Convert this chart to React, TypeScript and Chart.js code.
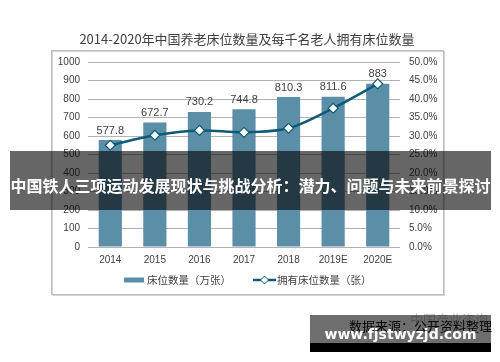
import React, { useEffect, useRef } from "react";
import { Chart, registerables } from "chart.js";

Chart.register(...registerables);

const categories = ["2014", "2015", "2016", "2017", "2018", "2019E", "2020E"];
const bedCounts = [577.8, 672.7, 730.2, 744.8, 810.3, 811.6, 883];
const bedsPerThousand = [27.5, 30.2, 31.5, 31.0, 32.1, 37.5, 44.1];
const titleText = "2014-2020年中国养老床位数量及每千名老人拥有床位数量";
const barLegend = "床位数量（万张）";
const lineLegend = "拥有床位数量（张）";
const sourceText = "数据来源：公开资料整理";
const bannerText = "中国铁人三项运动发展现状与挑战分析：潜力、问题与未来前景探讨";
const watermarkText = "www.fjstwyzjd.com";

const BAR_COLOR = "#5b8fa8";
const LINE_COLOR = "#0f5a76";
const TEXT_COLOR = "#404040";
const NUM_FONT = "'Liberation Sans', Arial, sans-serif";
const CJK_FONT = "'Noto Sans CJK SC', sans-serif";

const decorPlugin = {
  id: "decor",
  beforeDraw(chart: any) {
    const ctx = chart.ctx;
    ctx.save();
    ctx.fillStyle = "#ffffff";
    ctx.fillRect(0, 0, chart.width, chart.height);
    ctx.strokeStyle = "#d4d4d4";
    ctx.lineWidth = 1;
    ctx.strokeRect(52.5, 51.5, 392, 244);
    ctx.strokeStyle = "#bdbdbd";
    ctx.strokeRect(51.5, 50.5, 392, 244);
    ctx.fillStyle = TEXT_COLOR;
    ctx.font = "13px " + CJK_FONT;
    ctx.textAlign = "center";
    ctx.textBaseline = "middle";
    ctx.fillText(titleText, 247, 39);
    ctx.restore();
  },
  afterDatasetsDraw(chart: any) {
    const ctx = chart.ctx;
    const meta = chart.getDatasetMeta(0);
    ctx.save();
    ctx.fillStyle = TEXT_COLOR;
    ctx.font = "11px " + NUM_FONT;
    ctx.textAlign = "center";
    ctx.textBaseline = "bottom";
    meta.data.forEach((bar: any, i: number) => {
      ctx.fillText(String(bedCounts[i]), bar.x, bar.y - 4);
    });
    ctx.restore();
  },
  afterDraw(chart: any) {
    const ctx = chart.ctx;
    ctx.save();
    const ly = 280;
    ctx.fillStyle = BAR_COLOR;
    ctx.fillRect(124, ly - 2.5, 20, 5);
    ctx.fillStyle = TEXT_COLOR;
    ctx.font = "10.5px " + CJK_FONT;
    ctx.textAlign = "left";
    ctx.textBaseline = "middle";
    ctx.fillText(barLegend, 147, ly);
    ctx.strokeStyle = LINE_COLOR;
    ctx.lineWidth = 2.5;
    ctx.beginPath();
    ctx.moveTo(253, ly);
    ctx.lineTo(276, ly);
    ctx.stroke();
    ctx.fillStyle = "#ffffff";
    ctx.lineWidth = 1;
    ctx.beginPath();
    ctx.moveTo(264.5, ly - 4);
    ctx.lineTo(268.5, ly);
    ctx.lineTo(264.5, ly + 4);
    ctx.lineTo(260.5, ly);
    ctx.closePath();
    ctx.fill();
    ctx.stroke();
    ctx.fillStyle = TEXT_COLOR;
    ctx.fillText(lineLegend, 277, ly);
    ctx.fillStyle = "#c8c8c8";
    ctx.font = "13px " + CJK_FONT;
    ctx.fillText("中国产业咨询", 410, 319);
    ctx.fillStyle = "#111111";
    ctx.font = "13px " + CJK_FONT;
    ctx.fillText(sourceText, 349, 326);
    ctx.restore();
  },
};

export default function App() {
  const canvasRef = useRef<HTMLCanvasElement | null>(null);

  useEffect(() => {
    if (!canvasRef.current) return;
    const chart = new Chart(canvasRef.current, {
      type: "bar",
      data: {
        labels: categories,
        datasets: [
          {
            type: "bar",
            label: barLegend,
            data: bedCounts,
            backgroundColor: BAR_COLOR,
            yAxisID: "y",
            barPercentage: 0.52,
            categoryPercentage: 1,
            order: 2,
          },
          {
            type: "line",
            label: lineLegend,
            data: bedsPerThousand,
            borderColor: LINE_COLOR,
            borderWidth: 2.5,
            backgroundColor: "#ffffff",
            pointStyle: "rectRot",
            pointRadius: 5,
            pointBorderWidth: 1.2,
            pointBorderColor: LINE_COLOR,
            pointBackgroundColor: "#ffffff",
            yAxisID: "y1",
            tension: 0.3,
            order: 1,
          } as any,
        ],
      },
      options: {
        responsive: false,
        animation: false,
        devicePixelRatio: 1,
        layout: { padding: { left: 51, right: 50, top: 62, bottom: 95 } },
        plugins: {
          legend: { display: false },
          title: { display: false },
          tooltip: { enabled: false },
        },
        scales: {
          x: {
            offset: true,
            grid: { display: false, drawTicks: false },
            border: { display: false },
            ticks: {
              color: TEXT_COLOR,
              font: { size: 10, family: NUM_FONT },
              padding: 7,
              maxRotation: 0,
              autoSkip: false,
            },
            afterFit(scale: any) {
              scale.height = 20;
            },
          },
          y: {
            position: "left",
            min: 0,
            max: 1000,
            ticks: {
              stepSize: 100,
              color: TEXT_COLOR,
              font: { size: 10, family: NUM_FONT },
              padding: 8,
              callback: (v: any) => String(v),
            },
            grid: { color: "#b3b3b3", lineWidth: 1, drawTicks: false },
            border: { display: false },
            afterFit(scale: any) {
              scale.width = 37;
            },
          },
          y1: {
            position: "right",
            min: 0,
            max: 50,
            ticks: {
              stepSize: 5,
              color: TEXT_COLOR,
              font: { size: 10, family: NUM_FONT },
              padding: 9,
              callback: (v: any) => Number(v).toFixed(1) + "%",
            },
            grid: { display: false, drawTicks: false },
            border: { display: false },
            afterFit(scale: any) {
              scale.width = 50;
            },
          },
        },
      } as any,
      plugins: [decorPlugin],
    });
    return () => chart.destroy();
  }, []);

  return (
    <div style={{ position: "absolute", left: 0, top: 0, width: 500, height: 362, overflow: "hidden", background: "#fff" }}>
      <canvas ref={canvasRef} width={500} height={362} style={{ position: "absolute", left: 0, top: 0, width: 500, height: 362 }} />
      <div
        style={{
          position: "absolute",
          left: 10,
          top: 151,
          width: 481,
          height: 59,
          background: "rgba(0,0,0,0.6)",
          color: "#ffffff",
          display: "flex",
          alignItems: "center",
          justifyContent: "center",
          boxSizing: "border-box",
          paddingTop: 8,
          fontFamily: CJK_FONT,
          fontWeight: 700,
          fontSize: 16,
          whiteSpace: "nowrap",
        }}
      >
        {bannerText}
      </div>
      <div
        style={{
          position: "absolute",
          left: 310,
          top: 315,
          width: 181,
          height: 28,
          background: "rgba(0,0,0,0.57)",
        }}
      />
      <div
        style={{
          position: "absolute",
          left: 310,
          top: 343,
          width: 181,
          height: 9,
          background: "#000000",
        }}
      />
      <div
        style={{
          position: "absolute",
          left: 310,
          top: 324,
          width: 181,
          height: 20,
          color: "#ffffff",
          fontFamily: "'DejaVu Sans', sans-serif",
          fontWeight: 700,
          fontSize: 14,
          lineHeight: "20px",
          textAlign: "center",
          whiteSpace: "nowrap",
        }}
      >
        {watermarkText}
      </div>
    </div>
  );
}
